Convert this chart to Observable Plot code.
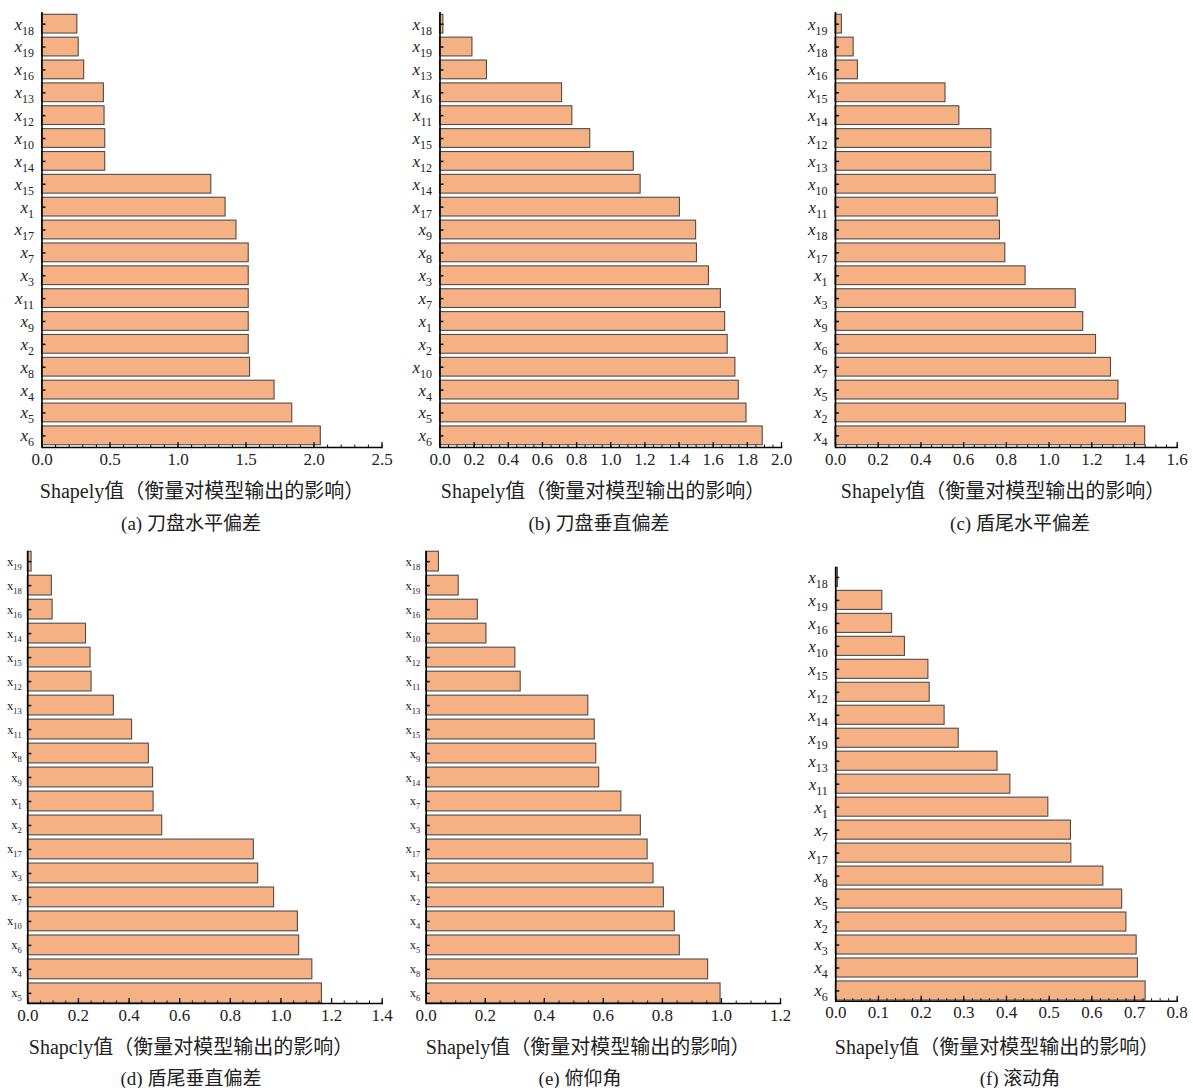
<!DOCTYPE html>
<html><head><meta charset="utf-8">
<script src="https://cdn.jsdelivr.net/npm/d3@7"></script>
<script src="https://cdn.jsdelivr.net/npm/@observablehq/plot@0.6"></script>
<style>
html,body{margin:0;padding:0;background:#fff;}
body{width:1193px;height:1088px;position:relative;overflow:hidden;font-family:"Liberation Serif","Noto Sans CJK SC",serif;color:#222;}
.panel{position:absolute;}
.txt{position:absolute;white-space:nowrap;transform:translate(-50%,-50%);font-size:19px;}
.lab{font-size:20px;}
</style></head><body>
<script>
// ---------- data ----------
const labelsA = ["x18","x19","x16","x13","x12","x10","x14","x15","x1","x17","x7","x3","x11","x9","x2","x8","x4","x5","x6"];
const valuesA = [0.26,0.27,0.31,0.455,0.46,0.465,0.465,1.245,1.35,1.43,1.52,1.52,1.52,1.52,1.52,1.53,1.71,1.84,2.05];

const labelsB = ["x18","x19","x13","x16","x11","x15","x12","x14","x17","x9","x8","x3","x7","x1","x2","x10","x4","x5","x6"];
const valuesB = [0.02,0.19,0.275,0.715,0.775,0.88,1.135,1.175,1.405,1.5,1.505,1.575,1.645,1.67,1.685,1.73,1.75,1.795,1.89];

const labelsC = ["x19","x18","x16","x15","x14","x12","x13","x10","x11","x18","x17","x1","x3","x9","x6","x7","x5","x2","x4"];
const valuesC = [0.03,0.085,0.105,0.515,0.58,0.73,0.73,0.75,0.76,0.77,0.795,0.89,1.125,1.16,1.22,1.29,1.325,1.36,1.45];

const labelsD = ["x19","x18","x16","x14","x15","x12","x13","x11","x8","x9","x1","x2","x17","x3","x7","x10","x6","x4","x5"];
const valuesD = [0.015,0.095,0.098,0.23,0.248,0.252,0.34,0.412,0.478,0.495,0.497,0.531,0.893,0.91,0.973,1.067,1.072,1.124,1.162];

const labelsE = ["x18","x19","x16","x10","x12","x11","x13","x15","x9","x14","x7","x3","x17","x1","x2","x4","x5","x8","x6"];
const valuesE = [0.043,0.11,0.175,0.204,0.302,0.32,0.549,0.571,0.576,0.586,0.661,0.727,0.75,0.77,0.805,0.842,0.859,0.955,0.997];

const labelsF = ["x18","x19","x16","x10","x15","x12","x14","x19","x13","x11","x1","x7","x17","x8","x5","x2","x3","x4","x6"];
const valuesF = [0.005,0.109,0.132,0.162,0.217,0.22,0.255,0.288,0.379,0.409,0.498,0.551,0.552,0.627,0.671,0.681,0.705,0.708,0.726];

const xMax   = [2.5, 2.0, 1.6, 1.4, 1.2, 0.8];
const xMajor = [0.5, 0.2, 0.2, 0.2, 0.2, 0.1];
const xMinor = [0.1, 0.05, 0.05, 0.05, 0.05, 0.02];

const axisTitles = ["Shapely值（衡量对模型输出的影响）","Shapely值（衡量对模型输出的影响）","Shapely值（衡量对模型输出的影响）",
                    "Shapcly值（衡量对模型输出的影响）","Shapely值（衡量对模型输出的影响）","Shapely值（衡量对模型输出的影响）"];
const captions = ["(a) 刀盘水平偏差","(b) 刀盘垂直偏差","(c) 盾尾水平偏差","(d) 盾尾垂直偏差","(e) 俯仰角","(f) 滚动角"];

// ---------- layout ----------
const BAR = "#F5B184", EDGE = "#4d4d4d";
const layout = [
  {L:0,   T:0,   W:398, H:475, ml:41.5, mr:16.5, mt:12,   mb:28,   pi:0.18, po:0.1,  italic:true,  lab:[202,489], cap:[191,521]},
  {L:398, T:0,   W:398, H:475, ml:41.5, mr:15,   mt:12,   mb:28,   pi:0.18, po:0.1,  italic:true,  lab:[603,489], cap:[599,521]},
  {L:796, T:0,   W:397, H:475, ml:39,   mr:16.3, mt:12,   mb:28,   pi:0.18, po:0.1,  italic:true,  lab:[1003,489], cap:[1020,521]},
  {L:0,   T:540, W:398, H:491, ml:27.3, mr:16.3, mt:11,   mb:28,   pi:0.175,po:0.01, italic:false, lab:[191,1045], cap:[191,1076]},
  {L:398, T:540, W:398, H:491, ml:27.7, mr:16,   mt:11,   mb:28,   pi:0.175,po:0.01, italic:false, lab:[588,1045], cap:[580,1076]},
  {L:796, T:540, W:397, H:491, ml:39.3, mr:16.3, mt:26.7, mb:30.3, pi:0.17, po:0.03, italic:true,  lab:[997,1045], cap:[1020,1076]}
];
const allLabels = [labelsA,labelsB,labelsC,labelsD,labelsE,labelsF];
const allValues = [valuesA,valuesB,valuesC,valuesD,valuesE,valuesF];

allLabels.forEach((labels, p) => {
  const cfg = layout[p];
  const values = allValues[p];
  const idx = d3.range(labels.length);
  const data = values.map((v, i) => ({i, v}));
  const eps = 1e-9;
  const major = d3.range(0, xMax[p] + eps, xMajor[p]);
  const minor = d3.range(0, xMax[p] + eps, xMinor[p]);
  const plot = Plot.plot({
    width: cfg.W, height: cfg.H,
    marginLeft: cfg.ml, marginRight: cfg.mr, marginTop: cfg.mt, marginBottom: cfg.mb,
    x: {domain: [0, xMax[p]], label: null},
    y: {domain: idx, paddingInner: cfg.pi, paddingOuter: cfg.po, round: false, label: null},
    style: {fontFamily: "Liberation Serif, serif", fontSize: "17px", color: "#222", background: "transparent", overflow: "visible"},
    marks: [
      Plot.barX(data, {x: "v", y: "i", fill: BAR, stroke: EDGE, strokeWidth: 1.1}),
      Plot.axisX(minor, {tickSize: -2.5, tickFormat: () => "", label: null, stroke: "#111"}),
      Plot.axisX(major, {tickSize: -5, tickFormat: () => "", label: null, stroke: "#111", strokeWidth: 1.3}),
      Plot.axisX(major, {tickSize: 0, tickPadding: 5, tickFormat: d => d.toFixed(1), label: null, fontSize: 17, fill: "#222"}),
      Plot.axisY(idx, {tickSize: -4, tickFormat: () => "", label: null, stroke: "#111", strokeWidth: 1.5}),
      Plot.axisY(idx, {tickSize: 0, tickPadding: cfg.italic ? 8 : 6, tickFormat: i => labels[i], label: null, fontSize: cfg.italic ? 17 : 12.5, fill: "#222"}),
      Plot.ruleX([0], {stroke: "#000", strokeWidth: 1.6}),
      Plot.frame({anchor: "bottom", stroke: "#000", strokeWidth: 1.6})
    ]
  });
  // render the tick labels as x with a numeric subscript
  d3.select(plot).selectAll('[aria-label="y-axis tick label"] text').each(function() {
    const t = d3.select(this);
    const s = t.text();
    if (!s) return;
    const num = s.slice(1);
    t.text(null);
    t.append("tspan").text("x").attr("font-style", cfg.italic ? "italic" : "normal");
    t.append("tspan").text(num).attr("font-size", cfg.italic ? 12 : 8.5).attr("dy", cfg.italic ? 5 : 4);
  });
  const div = document.createElement("div");
  div.className = "panel";
  div.style.left = cfg.L + "px";
  div.style.top = cfg.T + "px";
  div.appendChild(plot);
  document.body.appendChild(div);

  const lab = document.createElement("div");
  lab.className = "txt lab";
  lab.style.left = cfg.lab[0] + "px";
  lab.style.top = cfg.lab[1] + "px";
  lab.textContent = axisTitles[p];
  document.body.appendChild(lab);

  const cap = document.createElement("div");
  cap.className = "txt";
  cap.style.left = cfg.cap[0] + "px";
  cap.style.top = cfg.cap[1] + "px";
  cap.textContent = captions[p];
  document.body.appendChild(cap);
});
</script>
</body></html>
